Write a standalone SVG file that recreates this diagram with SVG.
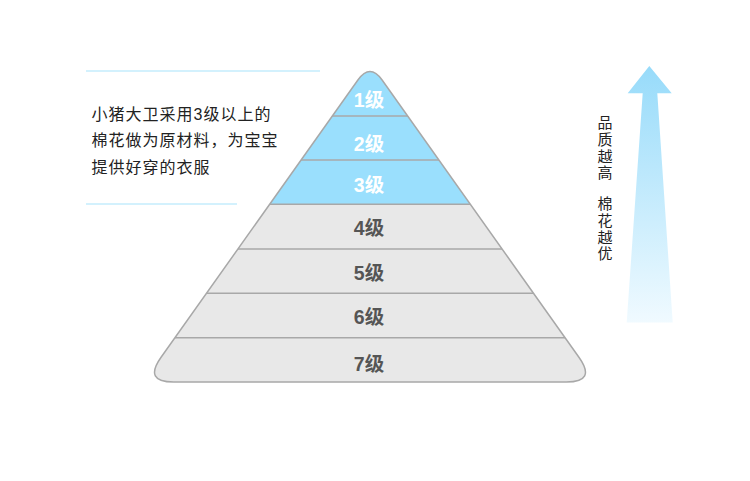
<svg xmlns="http://www.w3.org/2000/svg" width="750" height="481" viewBox="0 0 750 481">
  <defs>
    <clipPath id="pyr">
      <path d="M357.9,80 L160.9,357.5 Q143.5,382 173.5,382 L566.5,382 Q596.5,382 579.1,357.5 L382.1,80 Q370,63 357.9,80 Z"/>
    </clipPath>
    <linearGradient id="arrowGrad" x1="0" y1="0" x2="0" y2="1">
      <stop offset="0" stop-color="#97dbfa"/>
      <stop offset="1" stop-color="#f0faff"/>
    </linearGradient>
    <style>
      .blue { fill: #9adffd; }
      .gray { fill: #e8e8e8; }
      .div { stroke: #a8a8a8; stroke-width: 1.5; fill: none; }
      .lbl { font-family: "Liberation Sans", "Noto Sans CJK SC", sans-serif; font-size: 19.5px; font-weight: bold; text-anchor: middle; }
      .lw { fill: #ffffff; }
      .lg { fill: #555555; }
      .body { font-family: "Liberation Sans", "Noto Sans CJK SC", sans-serif; font-size: 16px; fill: #222222; letter-spacing: 1px; }
      .vert { font-family: "Noto Sans CJK SC", sans-serif; font-size: 15px; fill: #222222; writing-mode: vertical-rl; letter-spacing: 1.7px; }
      .rule { stroke: #a8e4fb; stroke-width: 1.2; }
    </style>
  </defs>
  <rect width="750" height="481" fill="#ffffff"/>

  <g id="intro">
    <line class="rule" x1="86" y1="71" x2="320" y2="71"/>
    <line class="rule" x1="86" y1="204" x2="237" y2="204"/>
    <text class="body" x="91.5" y="120">小猪大卫采用3级以上的</text>
    <text class="body" x="91.5" y="146">棉花做为原材料，为宝宝</text>
    <text class="body" x="91.5" y="172.5">提供好穿的衣服</text>
  </g>

  <g id="pyramid">
    <g clip-path="url(#pyr)">
      <rect class="blue" x="130" y="60" width="480" height="56"/>
      <rect class="blue" x="130" y="116" width="480" height="44"/>
      <rect class="blue" x="130" y="160" width="480" height="44.3"/>
      <rect class="gray" x="130" y="204.3" width="480" height="44.7"/>
      <rect class="gray" x="130" y="249" width="480" height="44.3"/>
      <rect class="gray" x="130" y="293.3" width="480" height="44.4"/>
      <rect class="gray" x="130" y="337.7" width="480" height="50"/>
      <line class="div" x1="130" y1="116" x2="610" y2="116"/>
      <line class="div" x1="130" y1="160" x2="610" y2="160"/>
      <line class="div" x1="130" y1="204.3" x2="610" y2="204.3"/>
      <line class="div" x1="130" y1="249" x2="610" y2="249"/>
      <line class="div" x1="130" y1="293.3" x2="610" y2="293.3"/>
      <line class="div" x1="130" y1="337.7" x2="610" y2="337.7"/>
    </g>
    <path class="div" d="M357.9,80 L160.9,357.5 Q143.5,382 173.5,382 L566.5,382 Q596.5,382 579.1,357.5 L382.1,80 Q370,63 357.9,80 Z"/>
  </g>

  <g id="level1"><text class="lbl lw" x="369" y="107">1级</text></g>
  <g id="level2"><text class="lbl lw" x="369" y="150.5">2级</text></g>
  <g id="level3"><text class="lbl lw" x="369" y="192">3级</text></g>
  <g id="level4"><text class="lbl lg" x="369" y="235">4级</text></g>
  <g id="level5"><text class="lbl lg" x="369" y="280">5级</text></g>
  <g id="level6"><text class="lbl lg" x="369" y="324">6级</text></g>
  <g id="level7"><text class="lbl lg" x="369" y="371">7级</text></g>

  <g id="quality-arrow">
    <path d="M649.3,66 L671.7,93.3 L657.3,93.3 L672.7,322.5 L626.7,322.5 L642.7,93.3 L627.7,93.3 Z" fill="url(#arrowGrad)"/>
  </g>

  <g id="quality-text">
    <text class="vert" x="605" y="115">品质越高</text>
    <text class="vert" x="605" y="196">棉花越优</text>
  </g>

  <g id="connectors"></g>
</svg>
